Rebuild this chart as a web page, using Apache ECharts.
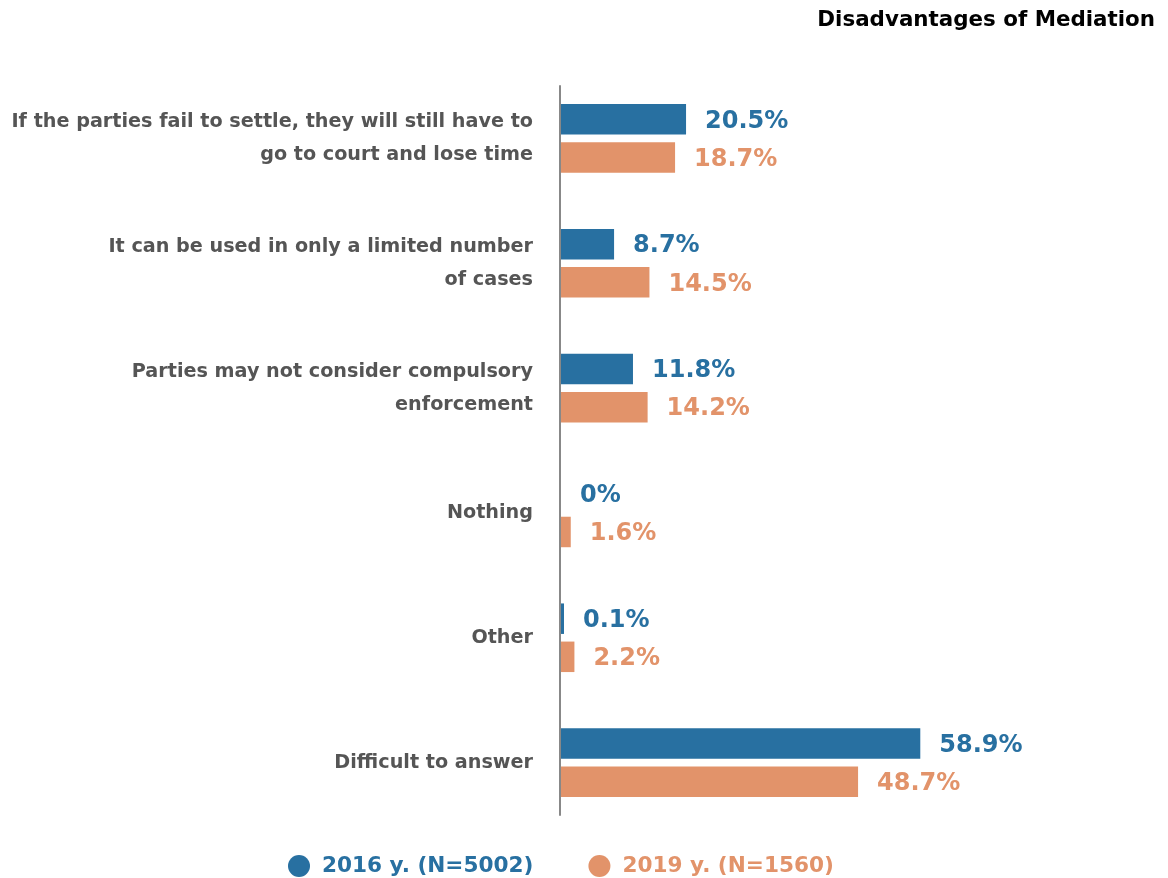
<!DOCTYPE html>
<html>
<head>
<meta charset="utf-8">
<style>
  html, body { margin: 0; padding: 0; background: #ffffff; }
  #chart { width: 1168px; height: 878px; }
</style>
<script src="https://cdn.jsdelivr.net/npm/echarts@6/dist/echarts.min.js"></script>
</head>
<body>
<div id="chart"></div>
<script>
// Answer options, top to bottom
const categories = [
  'If the parties fail to settle, they will still have to\ngo to court and lose time',
  'It can be used in only a limited number\nof cases',
  'Parties may not consider compulsory\nenforcement',
  'Nothing',
  'Other',
  'Difficult to answer'
];

// Share of respondents, %
const values2016 = [20.5, 8.7, 11.8, 0, 0.1, 58.9];
const values2019 = [18.7, 14.5, 14.2, 1.6, 2.2, 48.7];

const seriesNames = ['2016 y. (N=5002)', '2019 y. (N=1560)'];
const titleText = 'Disadvantages of Mediation';

const BLUE = '#2870a1';
const ORANGE = '#e2936a';
const FONT = 'DejaVu Sans';

const chart = echarts.init(document.getElementById('chart'));

// Very small shares still get a sliver of a bar; an exact zero gets none.
function toItems(data) {
  return data.map(function (v) {
    if (v === 0) {
      return { value: v, itemStyle: { color: 'rgba(0,0,0,0)' }, label: { distance: 16 } };
    }
    return v;
  });
}

function barSeries(name, data, color) {
  return {
    name: name,
    type: 'bar',
    xAxisIndex: 0,
    yAxisIndex: 0,
    data: toItems(data),
    barWidth: 30.5,
    barGap: '25%',
    barMinHeight: 3,
    itemStyle: { color: color },
    label: {
      show: true,
      position: 'right',
      distance: 19,
      offset: [0, 2],
      formatter: '{c}%',
      color: color,
      fontFamily: FONT,
      fontWeight: 'bold',
      fontSize: 24
    },
    emphasis: { disabled: true },
    animation: false
  };
}

chart.setOption({
  backgroundColor: '#ffffff',
  animation: false,
  title: {
    text: titleText,
    right: 8,
    top: 5,
    textStyle: { fontFamily: FONT, fontWeight: 'bold', fontSize: 21.4, color: '#000000' }
  },
  legend: {
    bottom: -4,
    left: 283,
    icon: 'circle',
    itemWidth: 22,
    itemHeight: 22,
    itemGap: 55,
    data: [
      { name: seriesNames[0], textStyle: { color: BLUE } },
      { name: seriesNames[1], textStyle: { color: ORANGE } }
    ],
    textStyle: { fontFamily: FONT, fontWeight: 'bold', fontSize: 21.6, padding: [0, 0, 0, 7] }
  },
  grid: [
    // bars
    { left: 561, top: 76, height: 749, width: 549, containLabel: false },
    // vertical axis line
    { left: 560, top: 86, height: 729, width: 549, containLabel: false }
  ],
  xAxis: [
    { type: 'value', gridIndex: 0, min: 0, max: 90, show: false },
    { type: 'value', gridIndex: 1, min: 0, max: 90, show: false }
  ],
  yAxis: [
    {
      type: 'category',
      gridIndex: 0,
      data: categories,
      inverse: true,
      axisLine: { show: false },
      axisTick: { show: false },
      splitLine: { show: false },
      axisLabel: {
        margin: 28,
        fontFamily: FONT,
        fontWeight: 'bold',
        fontSize: 19.2,
        lineHeight: 33,
        padding: [2, 0, 0, 0],
        color: '#555555',
        align: 'right'
      }
    },
    {
      type: 'value',
      gridIndex: 1,
      min: 0,
      max: 1,
      axisLine: { show: true, lineStyle: { color: '#888888', width: 2 } },
      axisTick: { show: false },
      axisLabel: { show: false },
      splitLine: { show: false }
    }
  ],
  series: [
    barSeries(seriesNames[0], values2016, BLUE),
    barSeries(seriesNames[1], values2019, ORANGE)
  ]
});
</script>
</body>
</html>
